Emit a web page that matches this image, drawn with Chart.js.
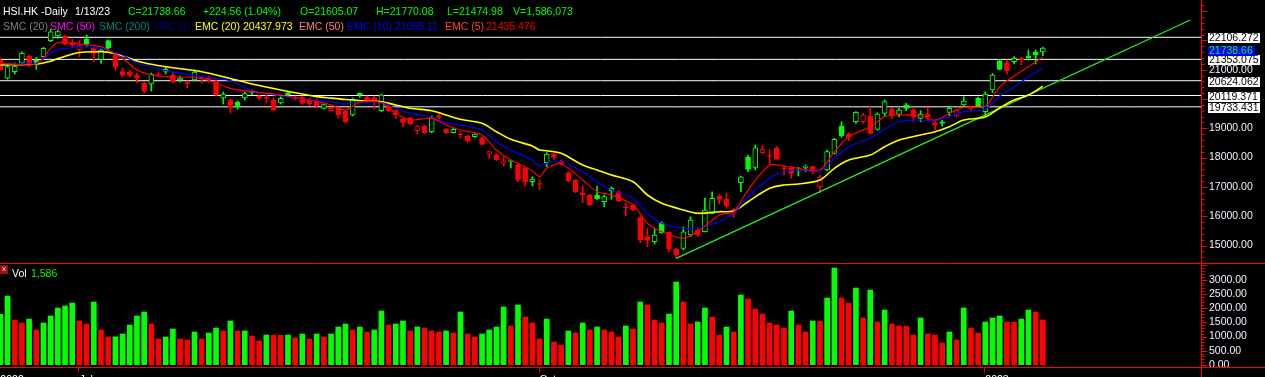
<!DOCTYPE html>
<html>
<head>
<meta charset="utf-8">
<title>HSI.HK Daily</title>
<script src="https://cdn.jsdelivr.net/npm/chart.js@4.4.1/dist/chart.umd.min.js"></script>
<style>
  html, body { margin: 0; padding: 0; background: #000; }
  body { width: 1265px; height: 377px; overflow: hidden; position: relative; font-family: "Liberation Sans", Arial, sans-serif; font-size: 10.5px; }
  canvas { position: absolute; left: 0; }
  #priceChart { top: 0; }
  #volumeChart { top: 263px; }
  .txt { position: absolute; white-space: pre; line-height: 12px; }
  #volIcon { position: absolute; left: 0; top: 265px; width: 8px; height: 9px; background: #9c1010; color: #fff; font-size: 8px; line-height: 8px; text-align: center; }
</style>
</head>
<body>
<canvas id="priceChart" width="1265" height="264"></canvas>
<canvas id="volumeChart" width="1265" height="120"></canvas>

<span class="txt" style="left:3px;top:5px;color:#fff">HSI.HK -Daily</span>
<span class="txt" style="left:75px;top:5px;color:#fff">1/13/23</span>
<span class="txt" style="left:128px;top:5px;color:#00ff00">C=21738.66</span>
<span class="txt" style="left:203px;top:5px;color:#00ff00">+224.56 (1.04%)</span>
<span class="txt" style="left:300px;top:5px;color:#00ff00">O=21605.07</span>
<span class="txt" style="left:376px;top:5px;color:#00ff00">H=21770.08</span>
<span class="txt" style="left:447px;top:5px;color:#00ff00">L=21474.98</span>
<span class="txt" style="left:513px;top:5px;color:#00ff00">V=1,586,073</span>

<span class="txt" style="left:3px;top:20px;color:#808080">SMC (20)</span>
<span class="txt" style="left:50px;top:20px;color:#ff00ff">SMC (50)</span>
<span class="txt" style="left:99px;top:20px;color:#008080">SMC (200)</span>
<span class="txt" style="left:152px;top:20px;color:#000080">SMC (1)</span>
<span class="txt" style="left:195px;top:20px;color:#ffff00">EMC (20)</span>
<span class="txt" style="left:243px;top:20px;color:#ffff00">20437.973</span>
<span class="txt" style="left:299px;top:20px;color:#ff8080">EMC (50)</span>
<span class="txt" style="left:347px;top:20px;color:#0000ff">EMC (10)</span>
<span class="txt" style="left:395px;top:20px;color:#0000ff">21055.11</span>
<span class="txt" style="left:445px;top:20px;color:#ff4040">EMC (5)</span>
<span class="txt" style="left:486px;top:20px;color:#ff0000">21435.476</span>

<div id="volIcon">x</div>
<span class="txt" style="left:12px;top:267px;color:#fff">Vol</span>
<span class="txt" style="left:31px;top:267px;color:#00ff00">1,586</span>

<script>
// daily bars, 16 Jun 2022 .. 13 Jan 2023 (index 0..145)
const opens = [
  21330, 20707, 20932, 21219, 21468, 21331, 21444, 21990, 22150, 22150,
  21922, 21696, 22038, 21731, 21355, 21990, 21502, 20932, 20922, 20819,
  20536, 20512, 20853, 21024, 20819, 20649, 20580, 20649, 20734, 20717,
  20591, 20034, 19966, 19898, 20034, 20283, 20103, 20068, 19966, 19864,
  20215, 20068, 20058, 19966, 19966, 19683, 19601, 19683, 19591, 19454,
  20195, 20058, 20051, 19601, 19795, 19601, 19307, 19341, 18918, 19079,
  18884, 19437, 18966, 18850, 18806, 18737, 18713, 18679, 18123, 18089,
  17805, 17867, 17748, 17635, 17178, 17116, 17826, 18123, 17884, 17485,
  17236, 16802, 16724, 16713, 16495, 16870, 16836, 16314, 16382, 15949,
  15301, 15130, 15778, 15451, 14870, 14904, 15358, 15529, 15471, 16099,
  16690, 16577, 16188, 17143, 18010, 17669, 18167, 18072, 18318, 17645,
  17635, 17543, 17669, 17690, 17007, 17577, 18147, 19079, 18806, 19225,
  19225, 19420, 18966, 19512, 19649, 19478, 19795, 19625, 19341, 19488,
  19191, 19225, 19546, 19420, 19795, 19710, 20024, 19567, 20307, 21307,
  21239, 21273, 21389, 21468, 21614, 21605.07
];
const highs = [
  21400, 21219, 21239, 21614, 21502, 21423, 21765, 22379, 22355, 22184,
  22038, 21990, 22184, 21765, 21731, 22014, 21560, 21058, 20990, 20888,
  20580, 20888, 20922, 21092, 20922, 20785, 20614, 20990, 20785, 20785,
  20649, 20239, 20000, 19932, 20239, 20307, 20137, 20137, 20034, 20103,
  20239, 20103, 20103, 20034, 20000, 19829, 19727, 19727, 19625, 20034,
  20215, 20103, 20103, 20171, 19853, 19625, 19341, 19376, 19113, 19103,
  19420, 19522, 18986, 19021, 18884, 18771, 18823, 18703, 18225, 18123,
  18055, 17918, 17806, 17669, 17348, 17236, 18167, 18147, 17918, 17519,
  17259, 17031, 16748, 17031, 16724, 17007, 16870, 16440, 16416, 16007,
  15587, 15587, 15812, 15471, 14904, 15642, 15983, 15597, 16611, 16836,
  16724, 16782, 16270, 17372, 18089, 18430, 18396, 18259, 18372, 17748,
  17669, 17669, 17748, 17713, 17406, 18259, 18659, 19225, 18850, 19567,
  19512, 19737, 19533, 19966, 19683, 19683, 19853, 19683, 19601, 19717,
  19283, 19283, 19737, 19649, 20079, 19761, 20068, 20249, 20877, 21355,
  21331, 21444, 21423, 21672, 21672, 21770.08
];
const lows = [
  20980, 20672, 20853, 21161, 21103, 21014, 21423, 21956, 22072, 21843,
  21765, 21444, 21809, 21273, 21219, 21707, 20990, 20751, 20751, 20546,
  20205, 20273, 20751, 20853, 20546, 20580, 20376, 20614, 20546, 20580,
  20103, 19829, 19522, 19659, 19966, 20137, 19966, 19864, 19591, 19829,
  20103, 19966, 19829, 19780, 19693, 19659, 19591, 19352, 19181, 19420,
  20058, 19908, 19659, 19567, 19567, 19341, 19055, 19113, 18806, 18829,
  18850, 19283, 18829, 18840, 18669, 18509, 18686, 18430, 17976, 17894,
  17713, 17645, 17178, 17031, 17031, 16894, 17690, 17942, 17748, 17178,
  16802, 16461, 16372, 16577, 16324, 16577, 16495, 16007, 16188, 15096,
  14959, 15051, 15416, 14788, 14563, 14846, 15301, 15301, 15461, 16075,
  16416, 16270, 15963, 16836, 17519, 17577, 18123, 17748, 17976, 17406,
  17294, 17372, 17519, 17440, 16802, 17553, 18123, 18693, 18577, 19171,
  19171, 18806, 18942, 19420, 19341, 19396, 19601, 19225, 19225, 19259,
  18942, 19079, 19420, 19376, 19761, 19591, 19727, 19396, 20215, 20990,
  20853, 21195, 21161, 21331, 21195, 21474.98
];
const closes = [
  21000, 21103, 21126, 21560, 21161, 21219, 21731, 22290, 22305, 21877,
  21843, 21826, 21877, 21560, 21672, 21731, 21103, 20819, 20802, 20707,
  20283, 20853, 20819, 20939, 20591, 20717, 20529, 20922, 20683, 20666,
  20137, 20171, 19693, 19744, 20188, 20222, 20034, 20017, 19625, 20024,
  20137, 20017, 19853, 19829, 19761, 19812, 19683, 19454, 19225, 19990,
  20137, 19942, 19915, 20137, 19601, 19454, 19205, 19147, 19079, 18850,
  19376, 19369, 18850, 18966, 18771, 18567, 18806, 18454, 18202, 17918,
  17884, 17901, 17236, 17178, 17270, 17082, 18123, 18010, 17782, 17201,
  16836, 16724, 16382, 16587, 16666, 16952, 16529, 16280, 16212, 15188,
  15170, 15358, 15437, 14881, 14676, 15471, 15870, 15358, 16212, 16611,
  16577, 16348, 16099, 17348, 17601, 18338, 18283, 18038, 17942, 17621,
  17464, 17577, 17713, 17601, 17328, 18202, 18625, 18747, 18693, 19546,
  19454, 18829, 19488, 19908, 19454, 19625, 19683, 19376, 19488, 19376,
  19113, 19171, 19683, 19625, 19932, 19676, 19761, 20171, 20819, 21014,
  20966, 21389, 21331, 21410, 21514, 21738.66
];
const volumes = [
  1781, 2426, 1582, 1477, 1617, 1231, 1477, 1723, 2004, 2074,
  2180, 1547, 1442, 2215, 1231, 984, 990, 1090, 1406, 1723,
  1863, 1442, 914, 984, 1266, 914, 879, 1160, 914, 1125,
  1301, 1195, 1547, 1195, 1200, 1020, 844, 1055, 1050, 1045,
  1055, 949, 1090, 914, 1090, 984, 1090, 1336, 1442, 1231,
  1336, 1160, 1231, 1899, 1406, 1442, 1547, 1195, 1336, 1301,
  1195, 1160, 1195, 1125, 1863, 1090, 984, 1090, 1231, 1336,
  2039, 1371, 2110, 1688, 1477, 914, 1617, 809, 703, 1195,
  1125, 1477, 1231, 1336, 1231, 1160, 984, 1371, 1266, 2215,
  2110, 1582, 1477, 1793, 2918, 2215, 1442, 1512, 2004, 1688,
  1055, 1336, 1160, 2461, 2321, 1969, 1793, 1477, 1406, 1301,
  1899, 1406, 1160, 1547, 1540, 2356, 3411, 2356, 2180, 2707,
  1653, 2637, 1512, 1934, 1442, 1371, 1365, 1055, 1653, 1090,
  1055, 774, 1160, 879, 2004, 1301, 1125, 1512, 1653, 1723,
  1512, 1505, 1617, 1934, 1863, 1586
];

// moving average lines at these bar indices
const emaIdx = [0, 5, 7, 8, 11, 14, 15, 17, 19, 21, 23, 28, 32, 35, 39, 44, 46, 48, 50, 53,
  55, 57, 60, 62, 64, 67, 69, 71, 74, 75, 76, 78, 81, 83, 85, 88, 90, 92, 95, 97,
  100, 102, 104, 107, 109, 111, 114, 116, 118, 121, 123, 125, 128, 130, 132, 134, 137, 139, 141, 143, 145];
const ema5 = [21218, 21195, 21730, 21922, 21877, 21785, 21672, 21389, 20990, 20819,
  20761, 20707, 20365, 20249, 20137, 19908, 19795, 19625, 19898, 19874,
  19512, 19283, 19341, 19113, 18942, 18771, 18259, 17918, 17553, 17348,
  17635, 17782, 17235, 16836, 16724, 16382, 15758, 15471, 15246, 15471,
  16041, 16154, 16894, 17747, 17713, 17635, 17577, 18201, 18713, 19055,
  19396, 19454, 19420, 19283, 19512, 19717, 19761, 20420, 20785, 21102, 21435.476];
const ema10 = [21218, 21229, 21560, 21696, 21765, 21730, 21648, 21502, 21218, 21102,
  20966, 20761, 20625, 20283, 20102, 19942, 19908, 19829, 19881, 19874,
  19683, 19512, 19375, 19191, 19113, 18942, 18543, 18259, 17918, 17713,
  17805, 17860, 17519, 17177, 16894, 16611, 16099, 15758, 15587, 15607,
  15812, 16099, 16666, 17293, 17519, 17577, 17553, 17976, 18372, 18659,
  18966, 19225, 19283, 19259, 19396, 19567, 19648, 20102, 20410, 20761, 21055.11];
const ema20 = [21160, 21195, 21290, 21380, 21590, 21614, 21600, 21480, 21300, 21184,
  21102, 20932, 20700, 20512, 20307, 20080, 20030, 19983, 19949, 19908,
  19795, 19683, 19601, 19454, 19307, 19171, 18884, 18625, 18396, 18259,
  18235, 18147, 17747, 17577, 17406, 17177, 16724, 16440, 16212, 16099,
  16154, 16177, 16495, 16952, 17065, 17099, 17235, 17635, 17918, 18089,
  18372, 18601, 18771, 18884, 19055, 19283, 19386, 19693, 19966, 20136, 20437.973];

const hLevels = [22106.272, 21353.075, 20624.062, 20119.371, 19733.431];
const lastPrice = 21738.66;
const trendIdx = [94, 165.5];
const trendVals = [14563, 22696];

const priceTicks = [15000, 16000, 17000, 18000, 19000, 21000];
const volumeTicks = [0, 500, 1000, 1500, 2000, 2500, 3000];
const xTickIdx = [0, 11, 75, 137];
const xTickLabels = ["2022", "Jul", "Oct", "2023"];

const UP = "#00ff00";
const DOWN = "#ff0000";
const FONT = "Liberation Sans";
const X_MIN = -0.05, X_MAX = 167.0;

Chart.defaults.font.family = FONT;
Chart.defaults.font.size = 10.5;
Chart.defaults.animation = false;

const idx = closes.map((_, i) => i);
const candleColor = closes.map((c, i) => c >= (i > 0 ? closes[i - 1] : opens[i]) ? UP : DOWN);
const volumeColor = volumes.map((v, i) => (i === 0 || v >= volumes[i - 1]) ? UP : DOWN);

// red price axis with minor/major ticks, drawn on the right edge of the plot
const redAxis = {
    id: "redAxis",
    afterDraw(chart, args, opts) {
        const { ctx, chartArea, scales } = chart;
        const y = scales.y;
        const x0 = Math.round(chartArea.right) + 0.5;
        ctx.save();
        ctx.strokeStyle = "#ff0000";
        ctx.lineWidth = 1;
        ctx.beginPath();
        ctx.moveTo(x0, 0);
        ctx.lineTo(x0, chart.height);
        for (let v = Math.ceil(y.min / opts.minor) * opts.minor; v <= y.max; v += opts.minor) {
            const py = Math.round(y.getPixelForValue(v)) + 0.5;
            const len = v % opts.major === 0 ? 6 : 3;
            ctx.moveTo(x0, py);
            ctx.lineTo(x0 + len, py);
        }
        if (opts.frame) {
            // panel separators and the date ticks under the volume panel
            const top = 0.5;
            const bottom = Math.round(chartArea.bottom) + 2.5;
            ctx.moveTo(0, top); ctx.lineTo(chart.width, top);
            ctx.moveTo(0, bottom); ctx.lineTo(chart.width, bottom);
            xTickIdx.forEach(i => {
                const px = Math.round(scales.x.getPixelForValue(i)) - 0.5;
                ctx.moveTo(px, bottom); ctx.lineTo(px, bottom + 5);
            });
        }
        ctx.stroke();
        ctx.restore();
    }
};

// boxed level labels beside the price axis
const levelBoxes = {
    id: "levelBoxes",
    afterDatasetsDraw(chart) {
        const { ctx, chartArea, scales: { y } } = chart;
        const left = Math.round(chartArea.right) + 7;
        ctx.save();
        ctx.font = "10.5px \"" + FONT + "\"";
        ctx.textBaseline = "middle";
        hLevels.forEach(v => {
            const py = Math.round(y.getPixelForValue(v));
            ctx.fillStyle = "#ffffff";
            ctx.fillRect(left, py - 4, 52, 10);
            ctx.fillStyle = "#000000";
            ctx.fillText(v.toFixed(3), left + 1, py + 1);
        });
        const pl = Math.round(y.getPixelForValue(lastPrice)) + 2;
        ctx.fillStyle = "#0000ff";
        ctx.fillRect(left, pl - 4, 47, 10);
        ctx.fillStyle = "#00ff00";
        ctx.fillText(lastPrice.toFixed(2), left + 1, pl + 1);
        ctx.restore();
    }
};

const noPad = s => { s.paddingLeft = 0; s.paddingRight = 0; s.paddingTop = 0; s.paddingBottom = 0; };

const lineSet = (xs, ys, color, width, order) => ({
    type: "line",
    data: xs.map((x, k) => ({ x: x, y: ys[k] })),
    borderColor: color,
    borderWidth: width,
    pointRadius: 0,
    tension: 0.3,
    order: order
});

const priceDatasets = [
    lineSet(emaIdx, ema5, "#ff0000", 1.2, 0),
    lineSet(emaIdx, ema10, "#0000ff", 1.2, 0),
    lineSet(emaIdx, ema20, "#ffff00", 1.6, 0),
    lineSet(trendIdx, trendVals, "#22ee22", 1.3, 0),
    {
        label: "body",
        data: idx.map(i => ({ x: i, y: [opens[i], closes[i]] })),
        backgroundColor: idx.map(i => closes[i] < opens[i] ? candleColor[i] : "#000000"),
        borderColor: candleColor,
        borderWidth: 1,
        borderSkipped: false,
        barThickness: 5,
        minBarLength: 1,
        grouped: false,
        order: 1
    },
    {
        label: "wick",
        data: idx.map(i => ({ x: i, y: [lows[i], highs[i]] })),
        backgroundColor: candleColor,
        borderWidth: 0,
        barThickness: 1,
        grouped: false,
        order: 2
    }
];
hLevels.forEach(v => {
    priceDatasets.push(lineSet([X_MIN, X_MAX], [v, v], "#ffffff", 1, 3));
});

new Chart(document.getElementById("priceChart"), {
    type: "bar",
    data: { datasets: priceDatasets },
    options: {
        responsive: false,
        events: [],
        layout: { padding: 0 },
        plugins: {
            legend: { display: false },
            tooltip: { enabled: false },
            redAxis: { minor: 200, major: 1000 }
        },
        scales: {
            x: {
                type: "linear", min: X_MIN, max: X_MAX, offset: false, display: false,
                afterFit: noPad
            },
            y: {
                position: "right", min: 14369, max: 23379,
                grid: { display: false, drawTicks: false },
                border: { display: false },
                afterBuildTicks: s => { s.ticks = priceTicks.map(v => ({ value: v })); },
                afterFit: s => { s.width = 64; noPad(s); },
                ticks: {
                    color: "#eef3ff", padding: 8, autoSkip: false,
                    callback: v => Number(v).toFixed(2)
                }
            }
        }
    },
    plugins: [redAxis, levelBoxes]
});

new Chart(document.getElementById("volumeChart"), {
    type: "bar",
    data: {
        datasets: [{
            label: "Vol",
            data: idx.map(i => ({ x: i, y: volumes[i] })),
            backgroundColor: volumeColor,
            borderWidth: 0,
            barThickness: 5,
            grouped: false
        }]
    },
    options: {
        responsive: false,
        events: [],
        layout: { padding: 0 },
        plugins: {
            legend: { display: false },
            tooltip: { enabled: false },
            redAxis: { minor: 100, major: 500, frame: true }
        },
        scales: {
            x: {
                type: "linear", min: X_MIN, max: X_MAX, offset: false,
                grid: { display: false, drawTicks: false },
                border: { display: false },
                afterBuildTicks: s => { s.ticks = xTickIdx.map(v => ({ value: v })); },
                afterFit: s => { s.height = 18; noPad(s); },
                ticks: {
                    color: "#ffffff", padding: 9, align: "start", autoSkip: false,
                    maxRotation: 0, minRotation: 0,
                    callback: (v, k) => xTickLabels[k]
                }
            },
            y: {
                position: "right", min: 0, max: 3587,
                grid: { display: false, drawTicks: false },
                border: { display: false },
                afterBuildTicks: s => { s.ticks = volumeTicks.map(v => ({ value: v })); },
                afterFit: s => { s.width = 64; noPad(s); },
                ticks: {
                    color: "#eef3ff", padding: 8, autoSkip: false,
                    callback: v => Number(v).toFixed(2)
                }
            }
        }
    },
    plugins: [redAxis]
});
</script>
</body>
</html>
